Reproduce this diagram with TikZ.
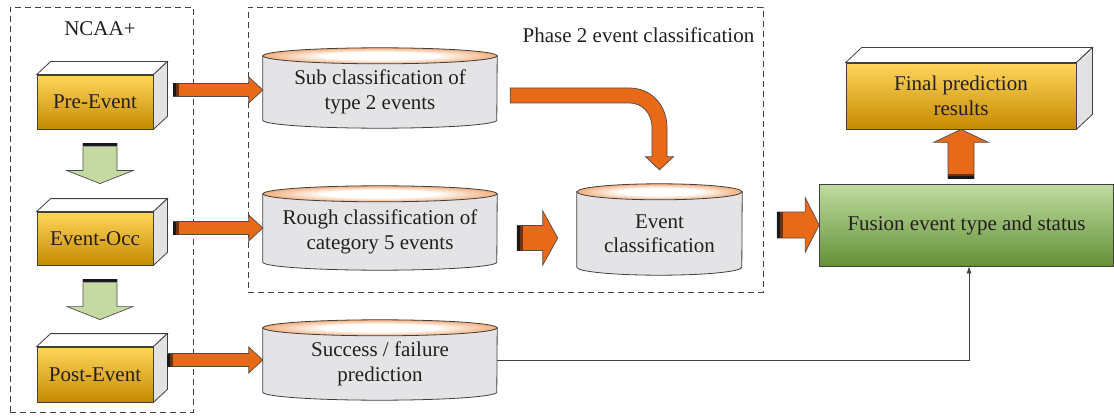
\documentclass[tikz,border=0pt]{standalone}
\usepackage{fontspec}
\setmainfont{Liberation Serif}
\usetikzlibrary{calc,arrows.meta,backgrounds}
\definecolor{orA}{RGB}{232,106,24}
\definecolor{orBand}{RGB}{110,50,15}
\definecolor{goldT}{RGB}{255,214,92}
\definecolor{goldM}{RGB}{250,184,0}
\definecolor{goldB}{RGB}{198,138,0}
\definecolor{grArrow}{RGB}{196,218,162}
\definecolor{grT}{RGB}{192,220,160}
\definecolor{grM}{RGB}{140,188,84}
\definecolor{grB}{RGB}{100,145,55}
\definecolor{cylGray}{RGB}{228,228,230}
\definecolor{cylEdge}{RGB}{238,150,85}
\definecolor{sideGray}{RGB}{226,226,228}
\definecolor{txt}{RGB}{35,31,32}
\pgfdeclareradialshading{cyltopshade}{\pgfpoint{0bp}{0bp}}{color(0bp)=(white); color(12bp)=(white); color(29bp)=(cylEdge); color(50bp)=(cylEdge)}
\tikzset{
  dashbox/.style={draw=black!75, line width=0.9pt, dash pattern=on 6pt off 4pt},
  goldbox/.style={draw=black!75, line width=0.8pt, top color=goldT, middle color=goldM, bottom color=goldB, align=center, inner sep=0pt},
  greenbox/.style={draw=black!75, line width=0.8pt, top color=grT, middle color=grM, bottom color=grB, align=center, inner sep=0pt},
  boxtop/.style={draw=black!75, line width=0.8pt, fill=white},
  boxside/.style={draw=black!75, line width=0.8pt, fill=sideGray},
  cylnode/.style={align=center, inner sep=0pt},
  cylbody/.style={draw=black!75, line width=0.8pt, fill=cylGray},
  cyltop/.style={draw=black!75, line width=0.8pt, shading=cyltopshade},
  fatorange/.style={draw=black!70, line width=0.7pt, fill=orA},
  fatgreen/.style={draw=black!70, line width=0.7pt, fill=grArrow},
  thinarrow/.style={draw=black!75, line width=0.8pt, -{Latex[length=7pt,width=5pt]}},
}
% 3D box faces: node, dx, dy (pixels)
\newcommand\boxthreed[3]{%
  \filldraw[boxtop] (#1.north west) -- ++(#2,-#3) -- ($(#1.north east)+(#2,-#3)$) -- (#1.north east) -- cycle;
  \filldraw[boxside] (#1.north east) -- ++(#2,-#3) -- ($(#1.south east)+(#2,-#3)$) -- (#1.south east) -- cycle;}
% cylinder: node, x radius
\newcommand\cylshape[2]{%
  \begin{pgfonlayer}{background}
  \path[cylbody] ($(#1.north west)+(0,-4)$) -- ($(#1.south west)+(0,-4)$) arc[start angle=180,end angle=360,x radius=#2pt,y radius=8pt] -- ($(#1.north east)+(0,-4)$) -- cycle;
  \path[cyltop] ($(#1.north)+(0,-4)$) ellipse[x radius=#2pt, y radius=8pt];
  \end{pgfonlayer}}
% horizontal fat arrow to the right: style, from, to, shaft half, head half, head length, band?
\newcommand\fatR[7]{%
  \filldraw[#1] let \p1=#2, \p2=#3 in (\x1,\y1+#4) -- (\x2-#6,\y1+#4) -- (\x2-#6,\y1+#5) -- (\x2,\y1) -- (\x2-#6,\y1-#5) -- (\x2-#6,\y1-#4) -- (\x1,\y1-#4) -- cycle;
  \ifx#7y
  \fill[black!90] let \p1=#2 in (\x1,\y1+#4) rectangle (\x1+3pt,\y1-#4);
  \fill[orBand] let \p1=#2 in (\x1+3pt,\y1+#4) rectangle (\x1+5.5pt,\y1-#4);
  \fi}
\newcommand\fatDown[6]{%
  \filldraw[#1] let \p1=#2, \p2=#3 in (\x1-#4,\y1) -- (\x1+#4,\y1) -- (\x1+#4,\y2+#6) -- (\x1+#5,\y2+#6) -- (\x1,\y2) -- (\x1-#5,\y2+#6) -- (\x1-#4,\y2+#6) -- cycle;
  \fill[black!90] let \p1=#2 in (\x1-#4,\y1) rectangle (\x1+#4,\y1-2.5pt);
  \fill[black!40] let \p1=#2 in (\x1-#4,\y1-2.5pt) rectangle (\x1+#4,\y1-4pt);}
\newcommand\fatUp[6]{%
  \filldraw[#1] let \p1=#2, \p2=#3 in (\x1-#4,\y1) -- (\x1+#4,\y1) -- (\x1+#4,\y2-#6) -- (\x1+#5,\y2-#6) -- (\x1,\y2) -- (\x1-#5,\y2-#6) -- (\x1-#4,\y2-#6) -- cycle;
  \fill[black!90] let \p1=#2 in (\x1-#4,\y1) rectangle (\x1+#4,\y1+3pt);
  \fill[orBand] let \p1=#2 in (\x1-#4,\y1+3pt) rectangle (\x1+#4,\y1+5pt);}
\begin{document}
\begin{tikzpicture}[x=1pt,y=-1pt,font=\fontsize{21}{24.5}\selectfont,text=txt]
\useasboundingbox (0,0) rectangle (1114,417);
% dashed groups
\node[dashbox, minimum width=183pt, minimum height=405pt, inner sep=0pt] (ncaa) at (101.5,209.5) {};
\node (ncaalbl) at (100,29) {NCAA+};
\node[dashbox, minimum width=515pt, minimum height=285pt, inner sep=0pt] (phase) at (505.5,149.5) {};
\node[anchor=east, inner sep=0pt] (phaselbl) at ($(phase.north east)+(-9,29)$) {Phase 2 event classification};

% 3D gold boxes
\node[goldbox, minimum width=116pt, minimum height=54pt] (pre) at (95,102) {Pre-Event};
\boxthreed{pre}{14}{13}
\node[goldbox, minimum width=116pt, minimum height=53pt] (occ) at (95,238.5) {Event-Occ};
\boxthreed{occ}{14}{13}
\node[goldbox, minimum width=116pt, minimum height=55pt] (post) at (95,374.5) {Post-Event};
\boxthreed{post}{14}{13}
\node[goldbox, minimum width=230pt, minimum height=66pt] (final) at (961,96) {Final prediction\\results};
\boxthreed{final}{16}{15}

% fusion
\node[greenbox, minimum width=294pt, minimum height=82pt] (fusion) at (966.5,225) {Fusion event type and status};

% cylinders
\node[cylnode, minimum width=234pt, minimum height=64pt] (sub) at (380,92) {Sub classification of\\type 2 events};
\cylshape{sub}{117}
\node[cylnode, minimum width=234pt, minimum height=68pt] (rough) at (380,232) {Rough classification of\\category 5 events};
\cylshape{rough}{117}
\node[cylnode, minimum width=234pt, minimum height=64pt] (succ) at (380,364) {Success / failure\\prediction};
\cylshape{succ}{117}
\node[cylnode, minimum width=165pt, minimum height=75pt] (event) at (659.5,233.5) {Event\\classification};
\cylshape{event}{82.5}

% fat arrows
\fatR{fatorange}{($(pre.east)+(20,-12)$)}{(sub.west)}{6.5pt}{13pt}{14pt}{y}
\fatR{fatorange}{($(occ.east)+(20,-10.5)$)}{(rough.west)}{6.5pt}{13pt}{14pt}{y}
\fatR{fatorange}{($(post.east)+(14,-14.5)$)}{(succ.west)}{6.5pt}{13pt}{14pt}{y}
\fatR{fatorange}{($(rough.east)+(20,6)$)}{($(event.west)+(-19,0)$)}{12.5pt}{27pt}{15pt}{y}
\fatR{fatorange}{($(fusion.west)+(-42,0)$)}{(fusion.west)}{13pt}{27.5pt}{14pt}{y}
\fatUp{fatorange}{($(fusion.north)+(-5.5,-5)$)}{(final.south)}{13pt}{27.5pt}{13pt}
\fatDown{fatgreen}{($(pre.south)+(5,14)$)}{($(occ.north)+(5,-28)$)}{17pt}{33pt}{13pt}
\fatDown{fatgreen}{($(occ.south)+(5,14)$)}{($(post.north)+(5,-27)$)}{17pt}{33pt}{13pt}

% curved arrow sub -> event
\filldraw[fatorange] let \p1=($(sub.east)+(13,3.5)$), \p2=($(event.north)+(0,-26)$) in
  (\x1,\y1+7.5pt) -- (\x2-30pt,\y1+7.5pt)
  .. controls (\x2-8pt,\y1+7.5pt) and (\x2+7.5pt,\y1-10pt) .. (\x2+7.5pt,\y1-32pt)
  -- (\x2+7.5pt,\y2+13pt) -- (\x2+14pt,\y2+13pt) -- (\x2,\y2) -- (\x2-14pt,\y2+13pt) -- (\x2-7.5pt,\y2+13pt)
  -- (\x2-7.5pt,\y1-32pt)
  .. controls (\x2-7.5pt,\y1-17pt) and (\x2-18pt,\y1-7.5pt) .. (\x2-30pt,\y1-7.5pt)
  -- (\x1,\y1-7.5pt) -- cycle;

% thin connector
\draw[thinarrow] ($(succ.east)+(0,-4)$) -| ($(fusion.south)+(2.5,0)$);
\end{tikzpicture}
\end{document}
